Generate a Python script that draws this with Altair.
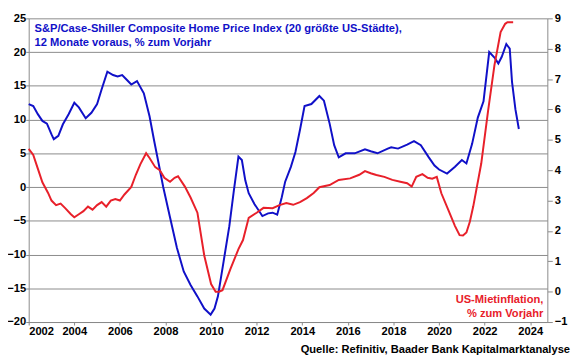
import altair as alt
import pandas as pd

# --- data ---
blue_years = [2002.0, 2002.2, 2002.4, 2002.6, 2002.8, 2003.0, 2003.1, 2003.3, 2003.5, 2003.75,
              2004.0, 2004.2, 2004.5, 2004.75, 2005.0, 2005.2, 2005.45, 2005.7, 2005.9, 2006.1,
              2006.3, 2006.5, 2006.75, 2007.05, 2007.3, 2007.5, 2007.7, 2007.9, 2008.2, 2008.5,
              2008.8, 2009.1, 2009.4, 2009.7, 2009.98, 2010.15, 2010.3, 2010.55, 2010.8, 2011.0,
              2011.2, 2011.35, 2011.5, 2011.65, 2011.9, 2012.25, 2012.5, 2012.7, 2012.9, 2013.1,
              2013.25, 2013.5, 2013.7, 2013.9, 2014.1, 2014.4, 2014.75, 2014.95, 2015.2, 2015.4,
              2015.6, 2015.9, 2016.3, 2016.75, 2017.0, 2017.3, 2017.75, 2017.9, 2018.2, 2018.6,
              2018.9, 2019.2, 2019.55, 2019.8, 2020.0, 2020.35, 2020.7, 2021.0, 2021.2, 2021.45,
              2021.7, 2021.95, 2022.2, 2022.45, 2022.6, 2022.75, 2022.95, 2023.1, 2023.2, 2023.35,
              2023.5]
blue_values = [12.3, 12.0, 10.8, 9.8, 9.4, 7.8, 7.1, 7.6, 9.3, 10.8,
               12.5, 11.8, 10.2, 11.0, 12.3, 14.5, 17.1, 16.6, 16.4, 16.6,
               15.9, 15.2, 15.7, 13.9, 10.5, 6.9, 3.5, 0.0, -4.5, -9.0,
               -12.5, -14.5, -16.2, -18.0, -18.9, -18.0, -16.2, -11.0, -5.8, -0.5,
               4.5, 4.0, 1.0, -0.9, -2.5, -4.3, -3.9, -3.8, -4.1, -1.5,
               0.8, 3.0, 5.2, 8.5, 12.0, 12.3, 13.5, 12.8, 9.4, 6.2,
               4.4, 5.0, 5.0, 5.6, 5.3, 5.0, 5.7, 5.9, 5.7, 6.3,
               6.8, 6.2, 4.4, 3.2, 2.6, 2.0, 3.0, 4.0, 3.5, 6.4,
               10.3, 12.7, 20.0, 19.1, 18.3, 19.3, 21.2, 20.5, 15.6, 11.5,
               8.6]

red_years = [2002.0, 2002.2, 2002.4, 2002.6, 2002.85, 2003.0, 2003.2, 2003.4, 2003.6, 2003.85,
             2004.0, 2004.2, 2004.4, 2004.6, 2004.8, 2005.0, 2005.2, 2005.4, 2005.6, 2005.8,
             2006.0, 2006.2, 2006.5, 2006.7, 2006.9, 2007.15, 2007.3, 2007.55, 2007.75, 2007.95,
             2008.2, 2008.4, 2008.55, 2008.85, 2009.1, 2009.4, 2009.7, 2010.0, 2010.2, 2010.35,
             2010.5, 2010.85, 2011.2, 2011.4, 2011.65, 2012.0, 2012.3, 2012.7, 2013.0, 2013.3,
             2013.6, 2013.9, 2014.2, 2014.5, 2014.75, 2015.2, 2015.6, 2016.1, 2016.5, 2016.75,
             2017.0, 2017.25, 2017.6, 2017.95, 2018.3, 2018.6, 2018.8, 2019.0, 2019.27, 2019.5,
             2019.7, 2019.9, 2020.1, 2020.4, 2020.7, 2020.9, 2021.05, 2021.2, 2021.35, 2021.5,
             2021.85, 2022.15, 2022.43, 2022.7, 2022.9, 2023.0, 2023.25]
red_values = [4.7, 4.5, 4.05, 3.6, 3.25, 3.0, 2.85, 2.9, 2.75, 2.55,
              2.45, 2.55, 2.65, 2.8, 2.7, 2.85, 2.95, 2.8, 3.0, 3.05,
              3.0, 3.2, 3.45, 3.85, 4.2, 4.56, 4.4, 4.1, 4.0, 3.75,
              3.62, 3.75, 3.8, 3.46, 3.1, 2.6, 1.19, 0.25, 0.0, 0.0,
              0.05, 0.75, 1.4, 1.7, 2.43, 2.6, 2.76, 2.75, 2.85, 2.92,
              2.86, 2.95, 3.08, 3.25, 3.44, 3.51, 3.68, 3.73, 3.85, 3.97,
              3.9, 3.84, 3.78, 3.68, 3.62, 3.57, 3.46, 3.78, 3.87, 3.75,
              3.72, 3.78, 3.24, 2.7, 2.16, 1.86, 1.85, 1.95, 2.3, 2.81,
              4.22, 5.95, 7.46, 8.55, 8.82, 8.87, 8.87]

x_ticks = list(range(2002, 2025, 2))
left_ticks = list(range(-20, 26, 5))
right_ticks = list(range(-1, 10))

title_lines = ["S&P/Case-Shiller Composite Home Price Index (20 größte US-Städte),",
               "12 Monate voraus, % zum Vorjahr"]
red_label_lines = ["US-Mietinflation,", "% zum Vorjahr"]
source_text = "Quelle: Refinitiv, Baader Bank Kapitalmarktanalyse"

BLUE = "#1010C8"
RED = "#E8202A"
GRID = "#8a8a8a"
FONT = "Liberation Sans"
FS = 11.3

blue_df = pd.DataFrame({"year": blue_years, "value": blue_values})
red_df = pd.DataFrame({"year": red_years, "value": red_values})

x_enc = alt.X("year:Q",
              scale=alt.Scale(domain=[2002, 2024.75], nice=False, zero=False),
              axis=alt.Axis(values=x_ticks, format="d", title=None, grid=False,
                            tickSize=3, labelPadding=1, labelFont=FONT, labelFontSize=FS,
                            labelFontWeight="bold", labelColor="black",
                            domainColor=GRID, tickColor=GRID))

blue = alt.Chart(blue_df).mark_line(color=BLUE, strokeWidth=2).encode(
    x=x_enc,
    y=alt.Y("value:Q",
            scale=alt.Scale(domain=[-20, 25], nice=False, zero=False),
            axis=alt.Axis(values=left_ticks, title=None, grid=True, gridColor=GRID,
                          gridWidth=1, tickSize=3, labelPadding=0, labelFont=FONT,
                          labelFontSize=FS, labelFontWeight="bold", labelColor="black",
                          domainColor=GRID, tickColor=GRID))
)

red = alt.Chart(red_df).mark_line(color=RED, strokeWidth=2).encode(
    x=x_enc,
    y=alt.Y("value:Q",
            scale=alt.Scale(domain=[-1, 9], nice=False, zero=False),
            axis=alt.Axis(values=right_ticks, orient="right", title=None, grid=False,
                          tickSize=5, labelPadding=2, labelFont=FONT,
                          labelFontSize=FS, labelFontWeight="bold", labelColor="black",
                          domainColor=GRID, tickColor=GRID))
)


def text_layer(txt, x, y, color, align):
    return alt.Chart(pd.DataFrame({"t": [txt]})).mark_text(
        font=FONT, fontSize=FS, fontWeight="bold", color=color,
        align=align, baseline="middle"
    ).encode(text="t:N", x=alt.value(x), y=alt.value(y))


texts = [
    text_layer(title_lines[0], 6, 11, BLUE, "left"),
    text_layer(title_lines[1], 6, 25, BLUE, "left"),
    text_layer(red_label_lines[0], 522, 286, RED, "right"),
    text_layer(red_label_lines[1], 522, 300, RED, "right"),
    text_layer(source_text, 549, 336, "black", "right"),
]

chart = alt.layer(blue, red, *texts).resolve_scale(y="independent").properties(
    width=526, height=308,
    autosize=alt.AutoSizeParams(type="none"),
    padding={"left": 21, "top": 8, "right": 25, "bottom": 35},
    background="white",
).configure_view(strokeWidth=0)

chart.save("out.html", embed_options={"renderer": "svg", "actions": False})
